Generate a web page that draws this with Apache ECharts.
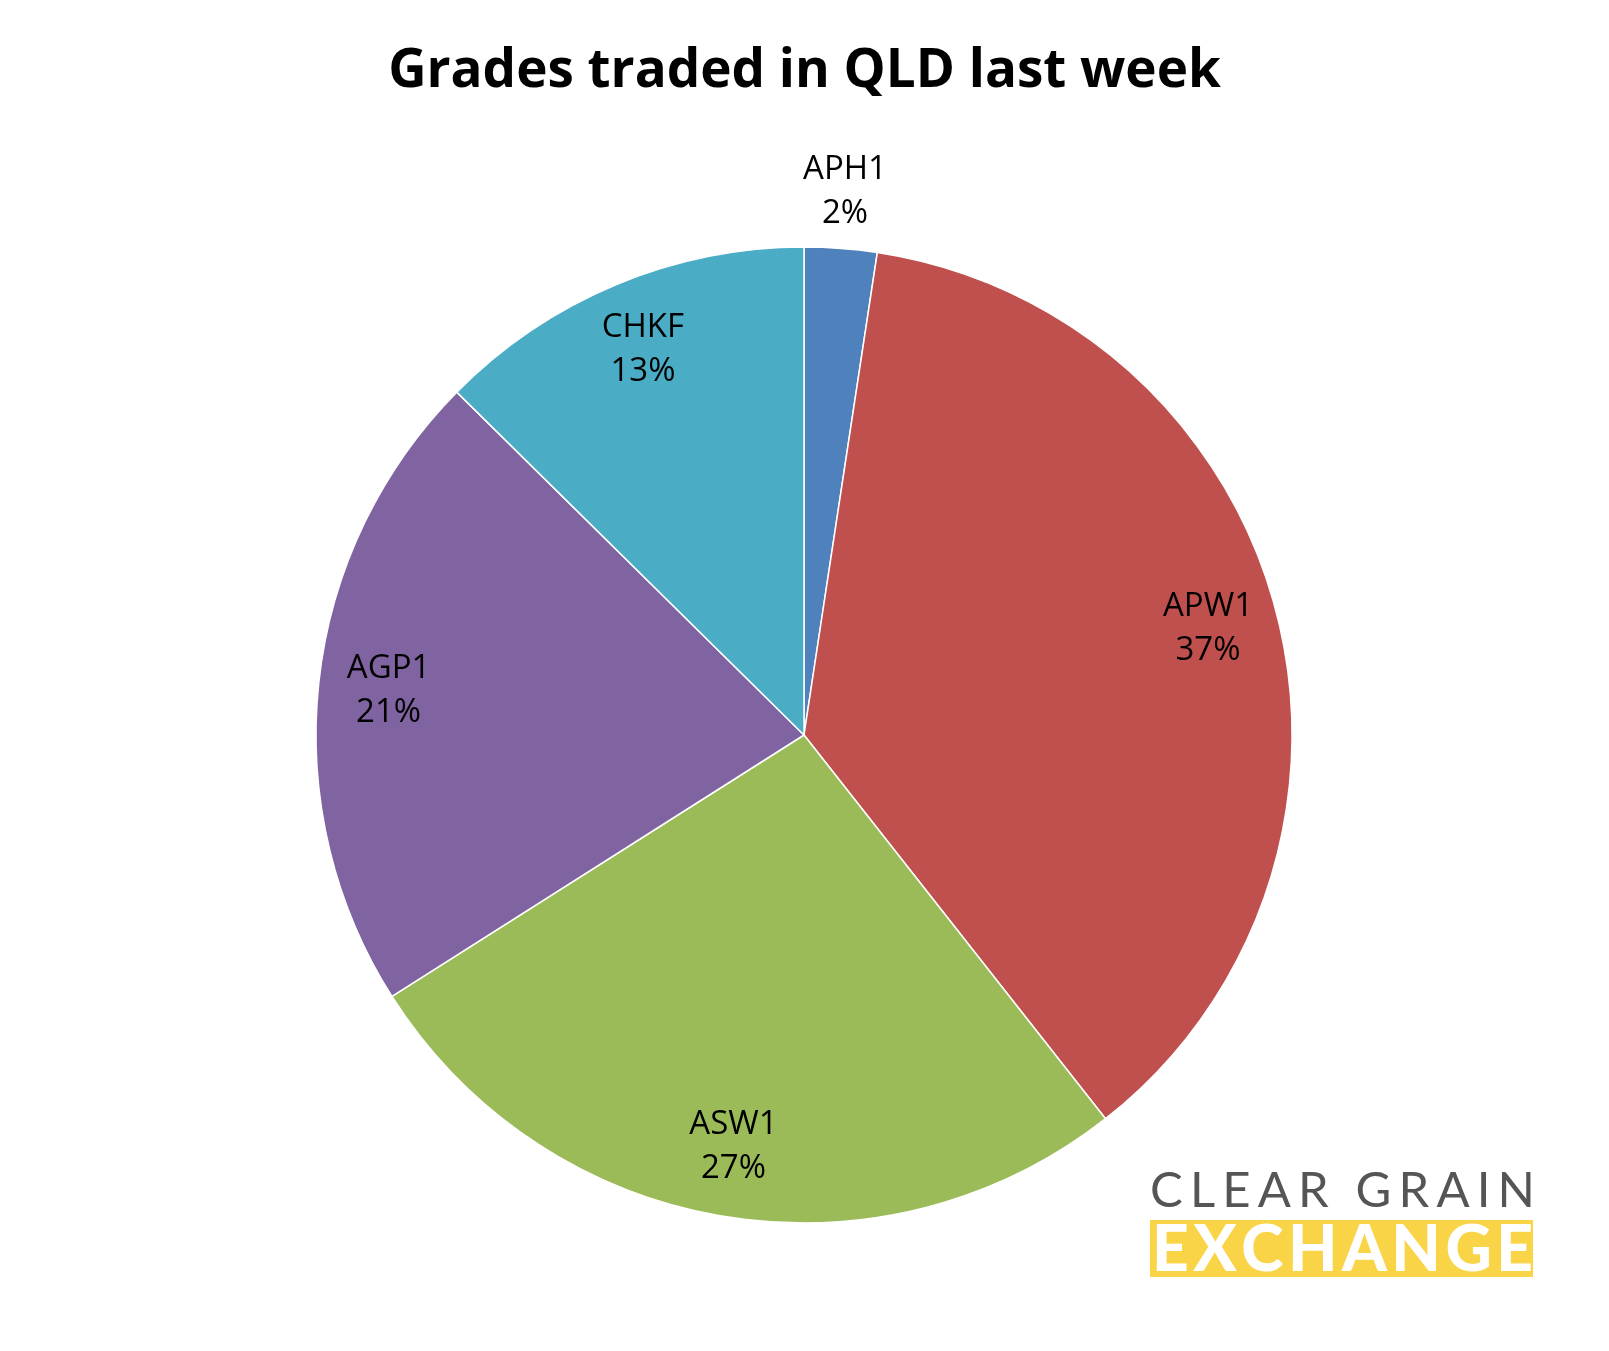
<!DOCTYPE html>
<html>
<head>
<meta charset="utf-8">
<script src="https://cdn.jsdelivr.net/npm/echarts@6/dist/echarts.min.js"></script>
<style>
html,body{margin:0;padding:0;background:#fff;}
#chart{width:1609px;height:1351px;}
</style>
</head>
<body>
<div id="chart"></div>
<script>
const categories = ['APH1', 'APW1', 'ASW1', 'AGP1', 'CHKF'];
const values = [2.4, 37.0, 26.6, 21.4, 12.6];
const colors = ['#4F81BD', '#C0504D', '#9BBB59', '#8064A2', '#4BACC6'];
const titleText = 'Grades traded in QLD last week';
const outsideLabels = ['APH1'];
const logoLine1 = 'CLEAR GRAIN';
const logoLine2 = 'EXCHANGE';

const chart = echarts.init(document.getElementById('chart'));
const center = [804, 735];
const R = 488;
const fmt = p => p.name + '\n' + Math.round(p.value) + '%';
const labelStyle = {fontFamily: 'Open Sans', fontSize: 33, color: '#000', lineHeight: 44};

const baseData = categories.map((c, i) => ({name: c, value: values[i], itemStyle: {color: colors[i]}}));
const insideLabelData = categories.map((c, i) => ({
  name: c, value: values[i],
  label: {show: outsideLabels.indexOf(c) < 0}
}));
const outsideLabelData = categories.map((c, i) => ({
  name: c, value: values[i],
  label: {show: outsideLabels.indexOf(c) >= 0}
}));
const labelSeries = (radius, data) => ({
  type: 'pie', center: center, radius: radius, startAngle: 90, clockwise: true,
  silent: true, animation: false,
  itemStyle: {color: 'rgba(0,0,0,0)', borderWidth: 0},
  label: Object.assign({position: 'inside', formatter: fmt}, labelStyle),
  labelLine: {show: false},
  emphasis: {disabled: true},
  data: data
});

// tracked (letter-spaced) text for the logo
const measureCtx = document.createElement('canvas').getContext('2d');
function trackedText(str, left, right, cy, size, weight, family, fill) {
  const font = weight + ' ' + size + 'px ' + family;
  measureCtx.font = font;
  const widths = Array.from(str).map(ch => measureCtx.measureText(ch).width);
  const total = widths.reduce((a, b) => a + b, 0);
  const gap = (right - left - total) / (str.length - 1);
  let x = left;
  const els = [];
  Array.from(str).forEach((ch, i) => {
    els.push({type: 'text', x: x, y: cy, z: 10,
      style: {text: ch, font: font, fill: fill, align: 'left', verticalAlign: 'middle'}});
    x += widths[i] + gap;
  });
  return els;
}

const graphics = []
  .concat(trackedText(logoLine1, 1150, 1535, 1191, 49, 'normal', 'Lato', '#555555'))
  .concat([{type: 'rect', shape: {x: 1150, y: 1220, width: 383, height: 57}, style: {fill: '#F9D447'}, z: 5}])
  .concat(trackedText(logoLine2, 1152, 1533, 1250, 64, '900', 'Lato', '#ffffff'));

chart.setOption({
  backgroundColor: '#fff',
  animation: false,
  title: {
    text: titleText, left: 'center', top: 40,
    textStyle: {fontFamily: 'Open Sans', fontWeight: 'bold', fontSize: 53, color: '#000'}
  },
  series: [
    {
      type: 'pie', center: center, radius: [0, R], startAngle: 90, clockwise: true,
      silent: true, animation: false,
      itemStyle: {borderColor: '#fff', borderWidth: 1.5},
      label: {show: false}, labelLine: {show: false},
      emphasis: {disabled: true},
      data: baseData
    },
    labelSeries([R * 0.7, R], insideLabelData),
    labelSeries([R, R * 1.22], outsideLabelData)
  ],
  graphic: graphics
});
</script>
</body>
</html>
